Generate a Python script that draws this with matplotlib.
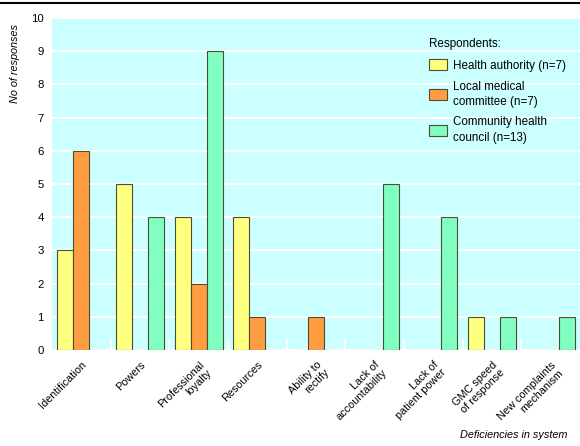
import numpy as np
import matplotlib
matplotlib.use("Agg")
import matplotlib.pyplot as plt

plt.rcParams["font.family"] = ["Liberation Sans", "DejaVu Sans"]

categories = [
    "Identification", "Powers", "Professional\nloyalty", "Resources",
    "Ability to\nrectify", "Lack of\naccountability", "Lack of\npatient power",
    "GMC speed\nof response", "New complaints\nmechanism",
]
health_authority = [3, 5, 4, 4, 0, 0, 0, 1, 0]
local_medical = [6, 0, 2, 1, 1, 0, 0, 0, 0]
community_health = [0, 4, 9, 0, 0, 5, 4, 1, 1]
series_labels = [
    "Health authority (n=7)",
    "Local medical\ncommittee (n=7)",
    "Community health\ncouncil (n=13)",
]
colors = ["#ffff80", "#ff9e40", "#80ffc0"]

fs = 7.8

fig = plt.figure(figsize=(5.8, 4.46), dpi=100)
ax = fig.add_axes([52 / 580, 1 - 350 / 446, 528 / 580, 332 / 446])
ax.set_facecolor("#ccffff")

x = np.arange(len(categories))
w = 0.273
for i, (vals, c, lab) in enumerate(zip([health_authority, local_medical, community_health],
                                       colors, series_labels)):
    ax.bar(x + (i - 1) * w, vals, width=w, color=c, edgecolor="#4d4d33",
           linewidth=0.8, label=lab, zorder=3)

ax.set_xlim(-0.5, len(categories) - 0.5)
ax.set_ylim(0, 10)
ax.set_yticks(range(0, 11))
ax.yaxis.grid(True, color="white", linewidth=1.5, zorder=0)
ax.set_axisbelow(True)
for s in ax.spines.values():
    s.set_visible(False)
ax.tick_params(axis="y", length=0, labelsize=fs + 0.4, pad=6)

ax.set_xticks(x)
ax.set_xticklabels(categories, rotation=45, ha="right", rotation_mode="anchor",
                   fontsize=fs, multialignment="right", linespacing=1.1)
ax.tick_params(axis="x", length=0, pad=7)
ax.set_xticks(x[:-1] + 0.5, minor=True)
ax.tick_params(axis="x", which="minor", direction="in", length=8, width=1.5,
               color="white")

fig.text(15 / 580, 1 - 24 / 446, "No of responses", rotation=90, ha="center",
         va="top", style="italic", fontsize=fs)
fig.text(567 / 580, 1 - 435 / 446, "Deficiencies in system", ha="right",
         va="center", style="italic", fontsize=fs)
fig.add_artist(plt.Line2D([0, 1], [1 - 3 / 446, 1 - 3 / 446], color="black",
                          linewidth=1.5, transform=fig.transFigure))

leg = ax.legend(loc="upper left", bbox_to_anchor=(0.695, 0.97), frameon=False,
                title="Respondents:", fontsize=fs + 0.6, title_fontsize=fs + 0.6,
                handlelength=1.5, handleheight=1.1, handletextpad=0.5,
                labelspacing=0.75, alignment="left")
for t in leg.get_texts():
    t.set_linespacing(1.35)

fig.savefig("out.png", dpi=100)
